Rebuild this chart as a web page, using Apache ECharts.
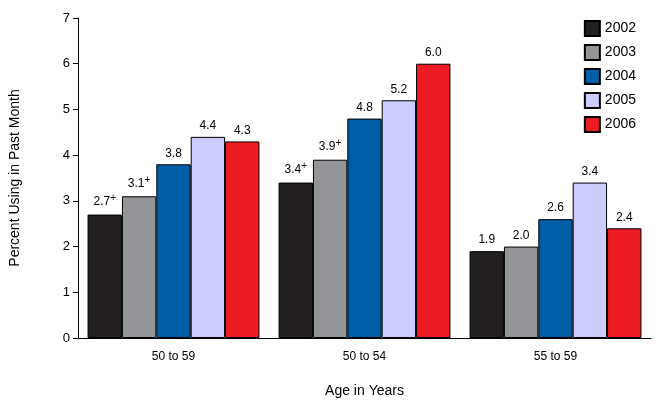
<!DOCTYPE html>
<html><head><meta charset="utf-8">
<script src="https://cdn.jsdelivr.net/npm/echarts@6/dist/echarts.min.js"></script>
<style>html,body{margin:0;padding:0;background:#fff}#c{width:659px;height:407px}</style>
</head><body><div id="c"></div>
<script>
var categories = ['50 to 59', '50 to 54', '55 to 59'];
var years = ['2002', '2003', '2004', '2005', '2006'];
var v2002 = [2.7, 3.4, 1.9];
var v2003 = [3.1, 3.9, 2.0];
var v2004 = [3.8, 4.8, 2.6];
var v2005 = [4.4, 5.2, 3.4];
var v2006 = [4.3, 6.0, 2.4];
var sig2002 = [true, true, false];
var sig2003 = [true, true, false];
var sig2004 = [false, false, false];
var sig2005 = [false, false, false];
var sig2006 = [false, false, false];
var yTicks = [0, 1, 2, 3, 4, 5, 6, 7];
var colors = ['#231f20', '#939598', '#005ea8', '#ccccff', '#ed1c24'];

var values = [v2002, v2003, v2004, v2005, v2006];
var sigs = [sig2002, sig2003, sig2004, sig2005, sig2006];
var FONT = 'Liberation Sans, Arial, sans-serif';

var chart = echarts.init(document.getElementById('c'));
var series = years.map(function (y, i) {
  return {
    name: y, type: 'bar', barGap: 0, barCategoryGap: '10%',
    data: values[i],
    itemStyle: { color: colors[i], borderColor: '#000', borderWidth: 1 },
    label: {
      show: true, position: 'top', distance: 5,
      fontFamily: FONT, fontSize: 12, color: '#000',
      formatter: function (p) {
        var s = p.value.toFixed(1);
        return sigs[i][p.dataIndex] ? s + '{sup|+}' : s;
      },
      rich: { sup: { fontSize: 10, verticalAlign: 'top', padding: [0, 0, 6, 0], fontFamily: FONT, color: '#000' } }
    }
  };
});

chart.setOption({
  animation: false,
  textStyle: { fontFamily: FONT },
  grid: { left: 77, right: 8, top: 18, bottom: 69 },
  legend: {
    orient: 'vertical', right: 18, top: 15, icon: 'rect',
    itemWidth: 15, itemHeight: 15, itemGap: 7,
    textStyle: { fontFamily: FONT, fontSize: 14, color: '#000' },
    data: years
  },
  xAxis: {
    type: 'category', data: categories,
    axisLine: { lineStyle: { color: '#000' } },
    axisTick: { show: false },
    axisLabel: { color: '#000', fontSize: 12, margin: 13, fontFamily: FONT },
    name: 'Age in Years', nameLocation: 'middle', nameGap: 46,
    nameTextStyle: { color: '#000', fontSize: 14, fontFamily: FONT }
  },
  yAxis: {
    type: 'value', min: 0, max: 7, interval: 1,
    axisLine: { show: true, lineStyle: { color: '#000' } },
    axisTick: { show: true, inside: false, length: 5, lineStyle: { color: '#000' } },
    splitLine: { show: false },
    axisLabel: { color: '#000', fontSize: 13, margin: 8, fontFamily: FONT,
      formatter: function (v) { return yTicks.indexOf(v) >= 0 ? String(v) : ''; } },
    name: 'Percent Using in Past Month', nameLocation: 'middle', nameGap: 56, nameRotate: 90,
    nameTextStyle: { color: '#000', fontSize: 14, fontFamily: FONT }
  },
  series: series
});
</script></body></html>
